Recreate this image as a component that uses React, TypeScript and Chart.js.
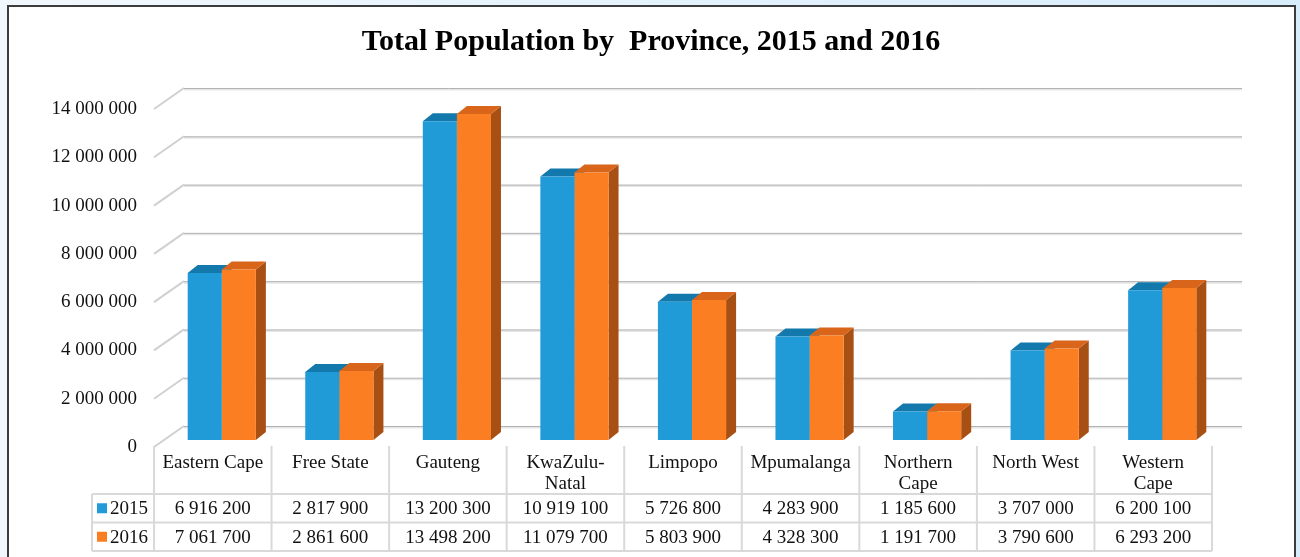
import React, { useEffect, useRef } from "react";
import { Chart, registerables } from "chart.js";

Chart.register(...registerables);

const chartTitle = "Total Population by  Province, 2015 and 2016";
const categories: string[][] = [
  ["Eastern Cape"],
  ["Free State"],
  ["Gauteng"],
  ["KwaZulu-", "Natal"],
  ["Limpopo"],
  ["Mpumalanga"],
  ["Northern", "Cape"],
  ["North West"],
  ["Western", "Cape"],
];
const seriesNames = ["2015", "2016"];
const pop2015 = [6916200, 2817900, 13200300, 10919100, 5726800, 4283900, 1185600, 3707000, 6200100];
const pop2016 = [7061700, 2861600, 13498200, 11079700, 5803900, 4328300, 1191700, 3790600, 6293200];
const yTicks = [0, 2000000, 4000000, 6000000, 8000000, 10000000, 12000000, 14000000];

const FONT = '"Liberation Serif", "Times New Roman", serif';
const FRONT = ["#219bd8", "#fb7f22"];
const TOPC = ["#1378ac", "#d9651a"];
const SIDEC = ["#126f9f", "#a84f13"];
const BACK = { dx: 30, dy: -21 };
const BARSHIFT = { dx: 9, dy: -7 };
const DEPTH = { dx: 10, dy: -8 };

const fmt = (n: number) => String(n).replace(/\B(?=(\d{3})+(?!\d))/g, " ");

function poly(ctx: CanvasRenderingContext2D, pts: number[][]) {
  ctx.beginPath();
  ctx.moveTo(pts[0][0], pts[0][1]);
  for (let i = 1; i < pts.length; i++) ctx.lineTo(pts[i][0], pts[i][1]);
  ctx.closePath();
  ctx.fill();
}

const threeD = {
  id: "threeD",
  beforeDatasetsDraw(chart: any) {
    const { ctx, chartArea, scales } = chart;
    const ys = scales.y;
    ctx.save();
    for (const v of yTicks) {
      const py = ys.getPixelForValue(v);
      ctx.strokeStyle = "#d0d0d0";
      ctx.lineWidth = 2;
      ctx.beginPath();
      ctx.moveTo(chartArea.left, py);
      ctx.lineTo(chartArea.left + BACK.dx, py + BACK.dy);
      ctx.stroke();
      const by = py + BACK.dy;
      ctx.strokeStyle = "#e6e6e6";
      ctx.lineWidth = 2;
      ctx.beginPath();
      ctx.moveTo(chartArea.left + BACK.dx, by + 1.5);
      ctx.lineTo(chartArea.right + BACK.dx, by + 1.5);
      ctx.stroke();
      ctx.strokeStyle = "#b2b2b2";
      ctx.lineWidth = 1;
      ctx.beginPath();
      ctx.moveTo(chartArea.left + BACK.dx, by + 0.5);
      ctx.lineTo(chartArea.right + BACK.dx, by + 0.5);
      ctx.stroke();
    }
    ctx.restore();

    ctx.save();
    ctx.translate(BARSHIFT.dx, BARSHIFT.dy);
    chart.data.datasets.forEach((_ds: any, di: number) => {
      const meta = chart.getDatasetMeta(di);
      meta.data.forEach((el: any) => {
        const { x, y, base, width } = el.getProps(["x", "y", "base", "width"], true);
        const l = x - width / 2;
        const r = x + width / 2;
        ctx.fillStyle = SIDEC[di];
        poly(ctx, [
          [r, y],
          [r + DEPTH.dx, y + DEPTH.dy],
          [r + DEPTH.dx, base + DEPTH.dy],
          [r, base],
        ]);
        ctx.fillStyle = TOPC[di];
        poly(ctx, [
          [l, y],
          [l + DEPTH.dx, y + DEPTH.dy],
          [r + DEPTH.dx, y + DEPTH.dy],
          [r, y],
        ]);
      });
    });
  },
  afterDatasetsDraw(chart: any) {
    chart.ctx.restore();
  },
  afterDraw(chart: any) {
    const { ctx, chartArea, scales } = chart;
    const xs = scales.x;
    const n = categories.length;
    const colW = (xs.right - xs.left) / n;
    const top = chartArea.bottom - 1;
    const r1 = chartArea.bottom + 47;
    const r2 = r1 + 28.5;
    const r3 = r2 + 28.5;
    const legL = xs.left - 62;

    ctx.save();
    // title
    ctx.fillStyle = "#000";
    ctx.font = `bold 30px ${FONT}`;
    ctx.textAlign = "center";
    ctx.textBaseline = "alphabetic";
    ctx.fillText(chartTitle, 651, 50);

    // table lines
    ctx.strokeStyle = "#d9d9d9";
    ctx.lineWidth = 2;
    for (const ry of [r1, r2, r3]) {
      ctx.beginPath();
      ctx.moveTo(legL, ry);
      ctx.lineTo(xs.right, ry);
      ctx.stroke();
    }
    ctx.beginPath();
    ctx.moveTo(legL, r1);
    ctx.lineTo(legL, r3);
    ctx.stroke();
    for (let k = 0; k <= n; k++) {
      const vx = xs.left + k * colW;
      ctx.beginPath();
      ctx.moveTo(vx, top);
      ctx.lineTo(vx, r3);
      ctx.stroke();
    }

    // header text
    ctx.fillStyle = "#111";
    ctx.font = `19px ${FONT}`;
    ctx.textAlign = "center";
    ctx.textBaseline = "middle";
    categories.forEach((lines, i) => {
      const cx = xs.getPixelForValue(i);
      lines.forEach((t, j) => ctx.fillText(t, cx, chartArea.bottom + 16 + j * 21));
    });
    const series = [pop2015, pop2016];
    const rowY = [(r1 + r2) / 2 + 1, (r2 + r3) / 2 + 1];
    series.forEach((vals, si) => {
      vals.forEach((v, i) => {
        ctx.fillText(fmt(v), xs.getPixelForValue(i), rowY[si]);
      });
    });
    // legend keys
    ctx.textAlign = "left";
    seriesNames.forEach((name, si) => {
      ctx.fillStyle = FRONT[si];
      ctx.fillRect(legL + 5, rowY[si] - 6, 10, 10);
      ctx.fillStyle = "#111";
      ctx.fillText(name, legL + 18, rowY[si]);
    });
    ctx.restore();
  },
};

export default function App() {
  const ref = useRef<HTMLCanvasElement | null>(null);
  useEffect(() => {
    if (!ref.current) return;
    const chart = new Chart(ref.current, {
      type: "bar",
      data: {
        labels: categories,
        datasets: [
          { label: seriesNames[0], data: pop2015, backgroundColor: FRONT[0], borderWidth: 0, categoryPercentage: 0.58, barPercentage: 1, clip: false as any },
          { label: seriesNames[1], data: pop2016, backgroundColor: FRONT[1], borderWidth: 0, categoryPercentage: 0.58, barPercentage: 1, clip: false as any },
        ],
      },
      options: {
        responsive: false,
        animation: false,
        layout: { padding: { left: 0, top: 109, right: 88, bottom: 110 } },
        plugins: { legend: { display: false }, tooltip: { enabled: false }, title: { display: false } },
        scales: {
          x: { display: false },
          y: {
            min: 0,
            max: 14000000,
            afterFit: (s: any) => {
              s.width = 154;
            },
            grid: { display: false, drawTicks: false },
            border: { display: false },
            ticks: {
              stepSize: 2000000,
              padding: 17,
              color: "#111",
              font: { family: FONT, size: 19 },
              callback: (v: any) => fmt(Number(v)),
            },
          },
        },
      },
      plugins: [threeD],
    });
    return () => chart.destroy();
  }, []);

  return (
    <div style={{ position: "absolute", left: 0, top: 0, width: 1300, height: 557, overflow: "hidden", background: "linear-gradient(to right, #f1f8fd, #d8edfb)" }}>
      <div style={{ position: "absolute", left: 7, top: 5, width: 1289, height: 620, boxSizing: "border-box", border: "2px solid #3c3c3c", background: "#fff" }} />
      <canvas ref={ref} width={1300} height={557} style={{ position: "absolute", left: 0, top: 0, display: "block" }} />
    </div>
  );
}
